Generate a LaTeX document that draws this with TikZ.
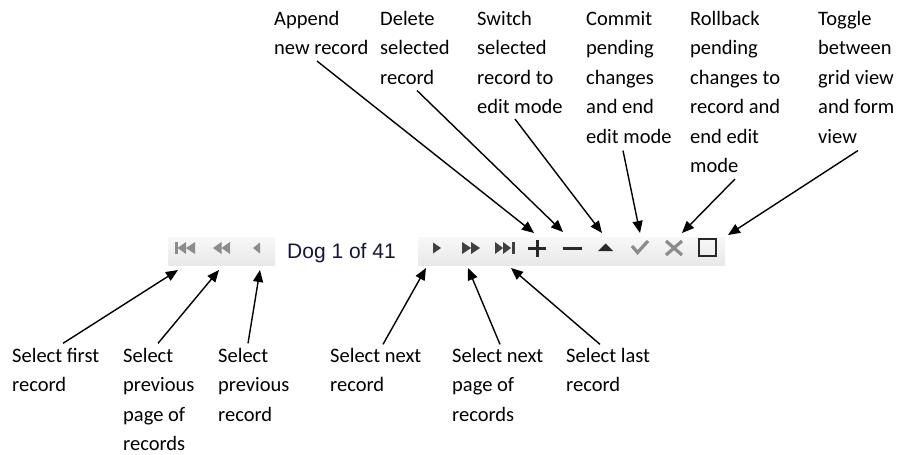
\documentclass[tikz,border=0pt]{standalone}
\usepackage{fontspec}
\setmainfont{Carlito}
\newfontfamily\barfont{Liberation Sans}
\usetikzlibrary{arrows.meta, positioning, calc}
\definecolor{barhi}{RGB}{248,248,248}
\definecolor{barlo}{RGB}{232,232,232}
\definecolor{icondim}{RGB}{140,140,140}
\definecolor{icondark}{RGB}{64,64,64}
\definecolor{iconblack}{RGB}{40,40,40}
\definecolor{dogtext}{RGB}{22,22,58}
\begin{document}
\begin{tikzpicture}[x=1pt, y=-1pt,
    lbl/.style={anchor=north west, align=left, inner sep=0pt, font=\fontsize{20.5}{29.5}\selectfont},
    bar/.style={top color=barhi, bottom color=barlo, draw=none},
    a/.style={-{Triangle[length=12pt,width=10pt]}, line width=1.4pt},
    ic/.style={line width=3pt, line cap=butt}
]
\useasboundingbox[fill=white] (0,0) rectangle (900,455);
\fill[bar] (168,237) rectangle (275,265);
\fill[bar] (418,237) rectangle (725,265);
\fill[icondim] (175,242) rectangle (177.5,254);
\fill[icondim] (177.5,248) -- (186,242) -- (186,254) -- cycle;
\fill[icondim] (186,248) -- (195,242) -- (195,254) -- cycle;
\fill[icondim] (213,248) -- (221.5,242) -- (221.5,254) -- cycle;
\fill[icondim] (221.5,248) -- (230,242) -- (230,254) -- cycle;
\fill[icondim] (253,248) -- (260,242.5) -- (260,253.5) -- cycle;
\node[anchor=base west, inner sep=0pt, text=dogtext, font=\barfont\fontsize{21}{25}\selectfont] (pos) at (287,258) {Dog 1 of 41};
\fill[icondark] (433,242.5) -- (441,248) -- (433,253.5) -- cycle;
\fill[icondark] (462,242) -- (471,248) -- (462,254) -- cycle;
\fill[icondark] (471,242) -- (480,248) -- (471,254) -- cycle;
\fill[icondark] (495,242) -- (503,248) -- (495,254) -- cycle;
\fill[icondark] (503,242) -- (511,248) -- (503,254) -- cycle;
\fill[icondark] (512,242) rectangle (515,254);
\draw[ic, iconblack] (528,248) -- (546,248) (537,239.5) -- (537,256.5);
\draw[ic, iconblack] (563,248) -- (582,248);
\fill[iconblack] (598,251) -- (613,251) -- (605.5,243.5) -- cycle;
\draw[ic, icondim, line width=3.2pt] (632,246) -- (637.5,252.5) -- (648,241);
\draw[ic, icondim, line width=3.2pt] (666,241) -- (682,255) (666,255) -- (682,241);
\draw[iconblack, line width=2pt] (699,239) rectangle (716,256);
\node[lbl] (append) at (274,4.35) {\strut Append\\new record};
\node[lbl] (delete) at (380,4.35) {\strut Delete\\selected\\record};
\node[lbl] (switch) at (477,4.35) {\strut Switch\\selected\\record to\\edit mode};
\node[lbl] (commit) at (586,4.35) {\strut Commit\\pending\\changes\\and end\\edit mode};
\node[lbl] (rollback) at (690,4.35) {\strut Rollback\\pending\\changes to\\record and\\end edit\\mode};
\node[lbl] (toggle) at (818,4.35) {\strut Toggle\\between\\grid view\\and form\\view};
\node[lbl] (selfirst) at (12,341.35) {\strut Select first\\record};
\node[lbl] (selprevpage) at (123,341.35) {\strut Select\\previous\\page of\\records};
\node[lbl] (selprev) at (218,341.35) {\strut Select\\previous\\record};
\node[lbl] (selnext) at (330,341.35) {\strut Select next\\record};
\node[lbl] (selnextpage) at (452,341.35) {\strut Select next\\page of\\records};
\node[lbl] (sellast) at (566,341.35) {\strut Select last\\record};
\coordinate (appendtip) at (534,233);
\coordinate (deletetip) at (563,232);
\coordinate (switchtip) at (602,233);
\coordinate (committip) at (640,233);
\coordinate (rollbacktip) at (682,233);
\coordinate (toggletip) at (728,235);
\coordinate (firsttip) at (178,270);
\coordinate (prevpagetip) at (219,270);
\coordinate (prevtip) at (260,270);
\coordinate (nexttip) at (426,268);
\coordinate (nextpagetip) at (468,268);
\coordinate (lasttip) at (511,268);
\draw[a] ([xshift=43pt,yshift=-6pt]append.south west) -- (appendtip);
\draw[a] ([xshift=37pt,yshift=-6pt]delete.south west) -- (deletetip);
\draw[a] ([xshift=38pt,yshift=-5pt]switch.south west) -- (switchtip);
\draw[a] ([xshift=37pt,yshift=-7pt]commit.south west) -- (committip);
\draw[a] ([xshift=45pt,yshift=-6pt]rollback.south west) -- (rollbacktip);
\draw[a] ([xshift=40pt,yshift=-7pt]toggle.south west) -- (toggletip);
\draw[a] ([xshift=51pt,yshift=-2pt]selfirst.north west) -- (firsttip);
\draw[a] ([xshift=35pt,yshift=-2pt]selprevpage.north west) -- (prevpagetip);
\draw[a] ([xshift=30pt,yshift=-2pt]selprev.north west) -- (prevtip);
\draw[a] ([xshift=53pt,yshift=-3pt]selnext.north west) -- (nexttip);
\draw[a] ([xshift=48pt,yshift=-3pt]selnextpage.north west) -- (nextpagetip);
\draw[a] ([xshift=34pt,yshift=-3pt]sellast.north west) -- (lasttip);
\end{tikzpicture}
\end{document}
